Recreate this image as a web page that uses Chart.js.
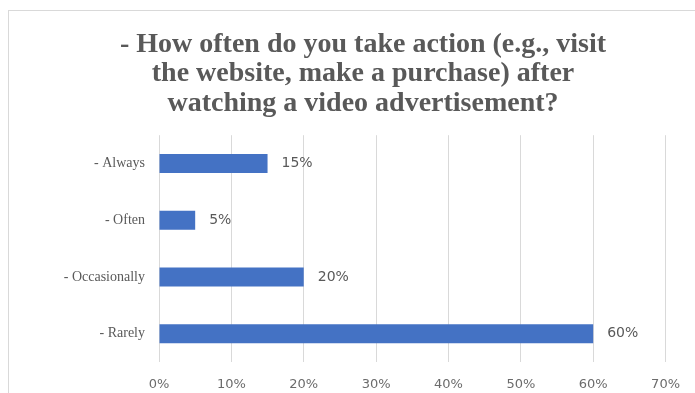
<!DOCTYPE html>
<html>
<head>
<meta charset="utf-8">
<script src="https://cdn.jsdelivr.net/npm/chart.js@4"></script>
<style>
  html, body { margin: 0; padding: 0; background: #fff; overflow: hidden; }
  #frame { position: absolute; left: 8px; top: 10px; width: 800px; height: 500px; border: 1px solid #d9d9d9; }
  #wrap { position: absolute; left: 0; top: 0; width: 695px; height: 393px; }
</style>
</head>
<body>
<div id="frame"></div>
<div id="wrap"><canvas id="actionChart" width="695" height="393"></canvas></div>
<script>
var answers = ['- Always', '- Often', '- Occasionally', '- Rarely'];
var shares = [15, 5, 20, 60];
var xTicks = [0, 10, 20, 30, 40, 50, 60, 70];

var grey = '#595959';

// подписи значений справа от полос
var barLabels = {
  id: 'barLabels',
  afterDatasetsDraw: function (chart) {
    var c = chart.ctx;
    var meta = chart.getDatasetMeta(0);
    c.save();
    c.font = '14px "DejaVu Sans"';
    c.fillStyle = grey;
    c.textAlign = 'left';
    c.textBaseline = 'middle';
    meta.data.forEach(function (bar, i) {
      c.fillText(shares[i] + '%', bar.x + 14, bar.y);
    });
    c.restore();
  }
};

var ctx = document.getElementById('actionChart').getContext('2d');
var actionChart = new Chart(ctx, {
  type: 'bar',
  data: {
    labels: answers,
    datasets: [{
      data: shares,
      backgroundColor: '#4472c4',
      borderWidth: 0,
      barPercentage: 0.335,
      categoryPercentage: 1
    }]
  },
  options: {
    indexAxis: 'y',
    responsive: false,
    animation: false,
    layout: { padding: { left: 55, right: 24, top: 0, bottom: 0 } },
    plugins: {
      legend: { display: false },
      tooltip: { enabled: false },
      title: {
        display: true,
        text: ['- How often do you take action (e.g., visit', 'the website, make a purchase) after', 'watching a video advertisement?'],
        color: grey,
        font: { family: '"Liberation Serif"', size: 28, weight: 'bold', lineHeight: 1.05 },
        padding: { top: 30, bottom: 17 }
      }
    },
    scales: {
      x: {
        min: 0,
        max: 70,
        afterBuildTicks: function (axis) {
          axis.ticks = xTicks.map(function (v) { return { value: v }; });
        },
        afterFit: function (axis) { axis.height = 31; },
        grid: { color: '#d9d9d9', drawTicks: false },
        border: { display: false },
        ticks: {
          color: '#6b6b6b',
          padding: 15,
          font: { family: '"DejaVu Sans"', size: 13 },
          callback: function (v) { return v + '%'; }
        }
      },
      y: {
        afterFit: function (axis) { axis.width = 104; },
        grid: { display: false, drawTicks: false },
        border: { display: false },
        ticks: {
          color: grey,
          padding: 14,
          font: { family: '"Liberation Serif", serif', size: 14 }
        }
      }
    }
  },
  plugins: [barLabels]
});
</script>
</body>
</html>
